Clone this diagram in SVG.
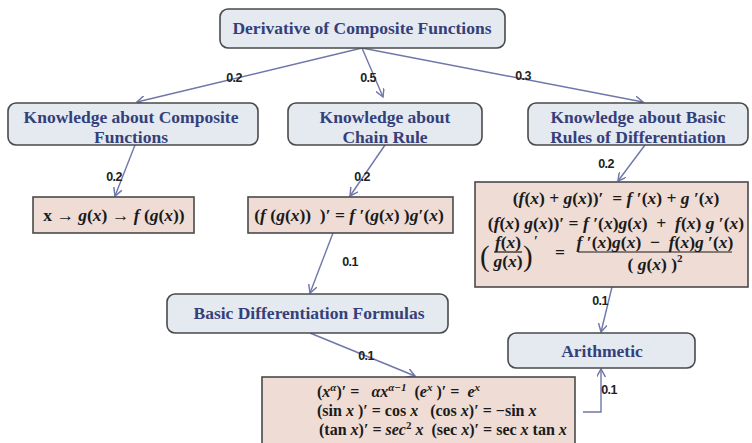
<svg xmlns="http://www.w3.org/2000/svg" width="752" height="443" viewBox="0 0 752 443" xml:space="preserve">
<defs>
<style>
.node rect{fill:#e5eaf1;stroke:#4a4a4a;stroke-width:1.6}
.node text{font-family:"Liberation Serif",serif;font-size:17.5px;font-weight:bold;fill:#34407a;text-anchor:middle}
.fbox rect{fill:#eedcd5;stroke:#4a4a4a;stroke-width:1.6}
.m{font-family:"Liberation Serif",serif;font-size:17.5px;font-weight:bold;fill:#1a1a1a;white-space:pre}
.i{font-style:italic}
.edge{fill:none;stroke:#6f76aa;stroke-width:1.4;marker-end:url(#ah)}
.lbl{font-family:"Liberation Sans",sans-serif;font-size:12.5px;font-weight:bold;fill:#222;text-anchor:middle;letter-spacing:-0.6px}
</style>
<marker id="ah" viewBox="0 0 10 10" refX="9" refY="5" markerWidth="9" markerHeight="9" markerUnits="userSpaceOnUse" orient="auto">
<path d="M0,0 L9,5 L0,10" fill="none" stroke="#6f76aa" stroke-width="1.6"/>
</marker>
</defs>
<rect width="752" height="443" fill="#ffffff"/>
<g id="connectors">
<path class="edge" d="M362,48 L137,102"/>
<path class="edge" d="M362,48 L383,97"/>
<path class="edge" d="M362,48 L643,102"/>
<path class="edge" d="M135,145 L115,196"/>
<path class="edge" d="M385,145 L350,196"/>
<path class="edge" d="M645,145 L618,181"/>
<path class="edge" d="M333,233 L310,293"/>
<path class="edge" d="M310,333 L415,376"/>
<path class="edge" d="M612,287 L601,332"/>
<path class="edge" d="M583,412 L601,412 L601,369"/>
<text class="lbl" x="234" y="82">0.2</text>
<text class="lbl" x="368" y="82">0.5</text>
<text class="lbl" x="523" y="80">0.3</text>
<text class="lbl" x="114" y="181">0.2</text>
<text class="lbl" x="362" y="181">0.2</text>
<text class="lbl" x="606" y="168">0.2</text>
<text class="lbl" x="350" y="266">0.1</text>
<text class="lbl" x="366" y="360">0.1</text>
<text class="lbl" x="600" y="305">0.1</text>
<text class="lbl" x="609" y="394">0.1</text>
</g>
<g id="n-root" class="node">
<rect x="220" y="9" width="285" height="39" rx="8"/>
<text x="362" y="34">Derivative of Composite Functions</text>
</g>
<g id="n-composite" class="node">
<rect x="8" y="103" width="250" height="42" rx="8"/>
<text x="131" y="123">Knowledge about Composite</text>
<text x="131" y="143">Functions</text>
</g>
<g id="n-chain" class="node">
<rect x="288" y="103" width="194" height="42" rx="8"/>
<text x="385" y="123">Knowledge about</text>
<text x="385" y="143">Chain Rule</text>
</g>
<g id="n-rules" class="node">
<rect x="528" y="103" width="220" height="42" rx="8"/>
<text x="638" y="123">Knowledge about  Basic</text>
<text x="638" y="143">Rules of Differentiation</text>
</g>
<g id="f-composite" class="fbox">
<rect x="33" y="197" width="161" height="36"/>
<text class="m" x="114" y="221" text-anchor="middle">x → <tspan class="i">g</tspan>(<tspan class="i">x</tspan>) → <tspan class="i">f</tspan> (<tspan class="i">g</tspan>(<tspan class="i">x</tspan>))</text>
</g>
<g id="f-chain" class="fbox">
<rect x="248" y="197" width="205" height="36"/>
<text class="m" x="349" y="221" text-anchor="middle">(<tspan class="i">f</tspan> (<tspan class="i">g</tspan>(<tspan class="i">x</tspan>))  )′ = <tspan class="i">f</tspan> ′(<tspan class="i">g</tspan>(<tspan class="i">x</tspan>) )<tspan class="i">g</tspan>′(<tspan class="i">x</tspan>)</text>
</g>
<g id="f-rules" class="fbox">
<rect x="475" y="182" width="273" height="105"/>
<text class="m" x="616" y="204" text-anchor="middle">(<tspan class="i">f</tspan>(<tspan class="i">x</tspan>) + <tspan class="i">g</tspan>(<tspan class="i">x</tspan>))′  = <tspan class="i">f</tspan> ′(<tspan class="i">x</tspan>) + <tspan class="i">g</tspan> ′(<tspan class="i">x</tspan>)</text>
<text class="m" x="616" y="229" text-anchor="middle">(<tspan class="i">f</tspan>(<tspan class="i">x</tspan>) <tspan class="i">g</tspan>(<tspan class="i">x</tspan>))′ = <tspan class="i">f</tspan> ′(<tspan class="i">x</tspan>)<tspan class="i">g</tspan>(<tspan class="i">x</tspan>)  +  <tspan class="i">f</tspan>(<tspan class="i">x</tspan>) <tspan class="i">g</tspan> ′(<tspan class="i">x</tspan>)</text>
<text class="m" x="480" y="266" style="font-size:29px;font-weight:normal">(</text>
<text class="m" x="508" y="248" text-anchor="middle"><tspan class="i">f</tspan>(<tspan class="i">x</tspan>)</text>
<line x1="494" y1="252" x2="522" y2="252" stroke="#1a1a1a" stroke-width="1.2"/>
<text class="m" x="508" y="267" text-anchor="middle"><tspan class="i">g</tspan>(<tspan class="i">x</tspan>)</text>
<text class="m" x="523" y="266" style="font-size:29px;font-weight:normal">)</text>
<text class="m" x="534" y="246" style="font-size:14px">′</text>
<text class="m" x="555" y="258">=</text>
<text class="m" x="655" y="248" text-anchor="middle"><tspan class="i">f</tspan> ′(<tspan class="i">x</tspan>)<tspan class="i">g</tspan>(<tspan class="i">x</tspan>)  −  <tspan class="i">f</tspan>(<tspan class="i">x</tspan>)<tspan class="i">g</tspan> ′(<tspan class="i">x</tspan>)</text>
<line x1="578" y1="252" x2="732" y2="252" stroke="#1a1a1a" stroke-width="1.2"/>
<text class="m" x="655" y="270" text-anchor="middle">( <tspan class="i">g</tspan>(<tspan class="i">x</tspan>) )<tspan font-size="11" dy="-8">2</tspan></text>
</g>
<g id="n-basicdiff" class="node">
<rect x="167" y="294" width="281" height="39" rx="8"/>
<text x="309" y="319">Basic Differentiation Formulas</text>
</g>
<g id="n-arith" class="node">
<rect x="508" y="333" width="187" height="35" rx="8"/>
<text x="602" y="357">Arithmetic</text>
</g>
<g id="f-basic" class="fbox">
<rect x="262" y="377" width="313" height="72"/>
<text class="m" x="317" y="397" style="font-size:16px">(<tspan class="i">x</tspan><tspan class="i" font-size="11" dy="-6">α</tspan><tspan dy="6">)′ =   </tspan><tspan class="i">αx</tspan><tspan class="i" font-size="11" dy="-6">α−1</tspan><tspan dy="6">  (</tspan><tspan class="i">e</tspan><tspan class="i" font-size="11" dy="-6">x</tspan><tspan dy="6"> )′ =  </tspan><tspan class="i">e</tspan><tspan class="i" font-size="11" dy="-6">x</tspan></text>
<text class="m" x="317" y="416" style="font-size:16px">(sin <tspan class="i">x</tspan> )′ = cos <tspan class="i">x</tspan>   (cos <tspan class="i">x</tspan>)′ = −sin <tspan class="i">x</tspan></text>
<text class="m" x="319" y="435" style="font-size:16px">(tan <tspan class="i">x</tspan>)′ = <tspan class="i">sec</tspan><tspan font-size="11" dy="-6">2</tspan><tspan class="i" dy="6"> x</tspan>  (sec <tspan class="i">x</tspan>)′ = sec <tspan class="i">x</tspan> tan <tspan class="i">x</tspan></text>
</g>
</svg>
